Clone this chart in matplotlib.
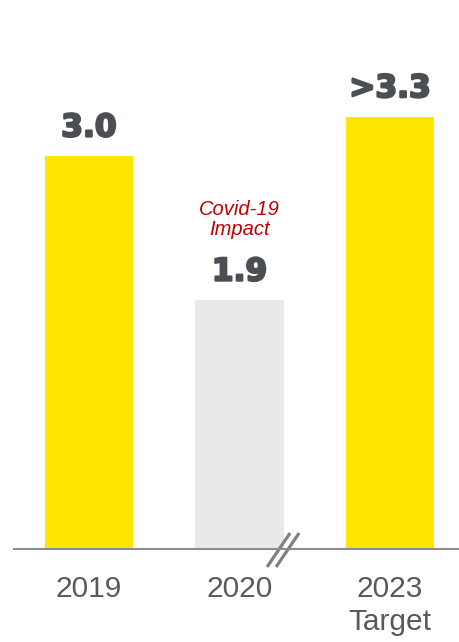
import matplotlib
matplotlib.use("Agg")
import matplotlib.pyplot as plt
import matplotlib.patheffects as pe

# data
years = ["2019", "2020", "2023\nTarget"]
values = [3.0, 1.9, 3.3]
value_labels = ["3.0", "1.9", ">3.3"]
bar_colors = ["#FFE600", "#E9E9E9", "#FFE600"]
note = "Covid-19\nImpact"

plt.rcParams['font.family'] = ['Liberation Sans', 'DejaVu Sans']

fig = plt.figure(figsize=(4.59, 6.42), dpi=100)
ax = fig.add_axes([14 / 459, 93 / 642, 445 / 459, 549 / 642])

x = list(range(len(years)))
ax.bar(x, values, width=0.585, color=bar_colors)

ax.set_xlim(-0.498, 2.458)
ax.set_ylim(0, 4.19)

for xi, v, lab in zip(x, values, value_labels):
    ax.annotate(lab, (xi, v), xytext=(0, 14), textcoords="offset points",
                ha="center", va="baseline", fontsize=22.5, fontweight="bold",
                family="DejaVu Sans", color="#4b4f54",
                path_effects=[pe.withStroke(linewidth=1.6, foreground="#4b4f54")])

ax.annotate(note, (1, values[1]), xytext=(0, 58), textcoords="offset points",
            ha="center", va="center", fontsize=14.5, style="italic",
            color="#C00000", linespacing=1.05)

# axis break marks
for dx in [0, 0.06]:
    ax.plot([1.183 + dx, 1.336 + dx], [-0.137, 0.122], color="#808080",
            lw=2.3, clip_on=False, solid_capstyle="butt")

for s in ["top", "right", "left"]:
    ax.spines[s].set_visible(False)
ax.spines["bottom"].set_color("#8c8c8c")
ax.spines["bottom"].set_linewidth(1.5)

ax.set_yticks([])
ax.set_xticks(x)
ax.set_xticklabels(years, fontsize=21.5, color="#595959", linespacing=1.2)
ax.tick_params(axis="x", length=0, pad=19)

fig.savefig("out.png", dpi=100)
